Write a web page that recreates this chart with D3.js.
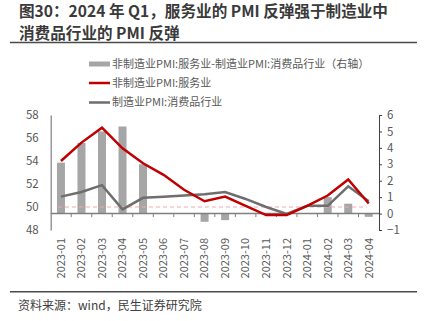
<!DOCTYPE html>
<html><head><meta charset="utf-8">
<script src="https://cdn.jsdelivr.net/npm/d3@7/dist/d3.min.js"></script>
<style>body{margin:0;background:#fff}svg{display:block}</style>
</head><body><svg id="c" width="428" height="321"></svg>
<script>
const categories = ["2023-01","2023-02","2023-03","2023-04","2023-05","2023-06","2023-07","2023-08","2023-09","2023-10","2023-11","2023-12","2024-01","2024-02","2024-03","2024-04"];
const services = [54.0,55.6,56.9,55.1,53.8,52.8,51.5,50.5,50.9,50.1,49.3,49.3,50.1,51.0,52.4,50.3];
const consumer = [50.9,51.3,51.9,49.8,50.8,50.9,51.0,51.1,51.3,50.7,50.0,49.4,50.1,50.1,51.8,50.5];
const spread = [3.1,4.3,5.0,5.3,3.0,null,null,-0.5,-0.4,null,null,null,null,1.0,0.6,-0.2];
const leftTicks = [48,50,52,54,56,58];
const rightTicks = [-1,0,1,2,3,4,5,6];
const names = ["非制造业PMI:服务业-制造业PMI:消费品行业（右轴）","非制造业PMI:服务业","制造业PMI:消费品行业"];
const titleLines = ["图30：2024 年 Q1，服务业的 PMI 反弹强于制造业中","消费品行业的 PMI 反弹"];

const svg = d3.select("#c");
const font = "'Noto Sans CJK SC','Noto Sans',sans-serif";
const x = d3.scaleBand().domain(categories).range([50.7,379]);
const yL = d3.scaleLinear().domain([48,58]).range([230,115]);
const yR = d3.scaleLinear().domain([-1,6]).range([230,115]);
const cx = d => x(d)+x.bandwidth()/2;

// title
const title = svg.append("g").attr("font-family",font).attr("font-weight","bold").attr("font-size",15.6).attr("fill","#3a3a3a");
titleLines.forEach((t,i)=>title.append("text").attr("x",19).attr("y",17+i*21.5).text(t));
svg.append("line").attr("x1",10).attr("x2",417).attr("y1",42.5).attr("y2",42.5).attr("stroke","#4a4a4a").attr("stroke-width",1.5);

// legend
const lg = svg.append("g").attr("font-family",font).attr("font-size",11).attr("fill","#595959");
lg.append("rect").attr("x",89).attr("y",61.5).attr("width",21).attr("height",5).attr("fill","#A6A6A6");
lg.append("line").attr("x1",89).attr("x2",110).attr("y1",83).attr("y2",83).attr("stroke","#C00000").attr("stroke-width",2.5);
lg.append("line").attr("x1",89).attr("x2",110).attr("y1",102.5).attr("y2",102.5).attr("stroke","#6E6E6E").attr("stroke-width",2.5);
[64,83,102.5].forEach((yy,i)=>lg.append("text").attr("x",112).attr("y",yy).attr("dy","0.35em").text(names[i]));

// bars
svg.append("g").selectAll("rect").data(categories.map((c,i)=>({c,v:spread[i]})).filter(d=>d.v!==null))
  .join("rect").attr("x",d=>cx(d.c)-4).attr("width",8)
  .attr("y",d=>yR(Math.max(0,d.v))).attr("height",d=>Math.abs(yR(d.v)-yR(0))).attr("fill","#A6A6A6");

// dashed 50 line
svg.append("line").attr("x1",cx(categories[0])-3).attr("x2",cx(categories[categories.length-1])-2)
  .attr("y1",yL(50)).attr("y2",yL(50)).attr("stroke","#F2A9A9").attr("stroke-width",1).attr("stroke-dasharray","4,3");

// zero line with ticks
const z = yR(0);
svg.append("line").attr("x1",50.7).attr("x2",379).attr("y1",z).attr("y2",z).attr("stroke","#7f7f7f").attr("stroke-width",1.5);
svg.append("g").selectAll("line").data(categories.slice(1)).join("line")
  .attr("x1",d=>x(d)).attr("x2",d=>x(d)).attr("y1",z).attr("y2",z+3.5).attr("stroke","#7f7f7f").attr("stroke-width",1);

// lines
const line = d3.line().x((d,i)=>cx(categories[i])).y(d=>yL(d));
svg.append("path").attr("d",line(consumer)).attr("fill","none").attr("stroke","#6E6E6E").attr("stroke-width",2.5);
svg.append("path").attr("d",line(services)).attr("fill","none").attr("stroke","#C00000").attr("stroke-width",2.5);

// left axis
const la = svg.append("g").attr("transform","translate(50.7,0)").call(d3.axisLeft(yL).tickValues(leftTicks).tickSize(0).tickPadding(12));
la.select(".domain").attr("stroke","#7f7f7f").attr("stroke-width",1.2);
la.selectAll("text").attr("font-family",font).attr("font-size",11.5).attr("fill","#595959");

// right axis
const ra = svg.append("g").attr("transform","translate(379,0)").call(d3.axisRight(yR).tickValues(rightTicks).tickFormat(d3.format("d")).tickSize(3).tickPadding(5).tickSizeOuter(0));
ra.select(".domain").attr("stroke","#404040");
ra.selectAll(".tick line").attr("stroke","#404040");
ra.selectAll("text").attr("font-family",font).attr("font-size",11.5).attr("fill","#595959");

// x labels
svg.append("g").selectAll("text").data(categories).join("text")
  .attr("transform",d=>`translate(${cx(d)},238) rotate(-90)`).attr("text-anchor","end").attr("dy","0.35em")
  .attr("font-family",font).attr("font-size",11).attr("fill","#595959").text(d=>d);

// bottom rule + source
svg.append("line").attr("x1",10).attr("x2",417).attr("y1",291.7).attr("y2",291.7).attr("stroke","#4a4a4a").attr("stroke-width",1.5);
svg.append("text").attr("x",18).attr("y",306).attr("dy","0.35em").attr("font-family",font).attr("font-size",12).attr("fill","#404040").text("资料来源：wind，民生证券研究院");
</script></body></html>
